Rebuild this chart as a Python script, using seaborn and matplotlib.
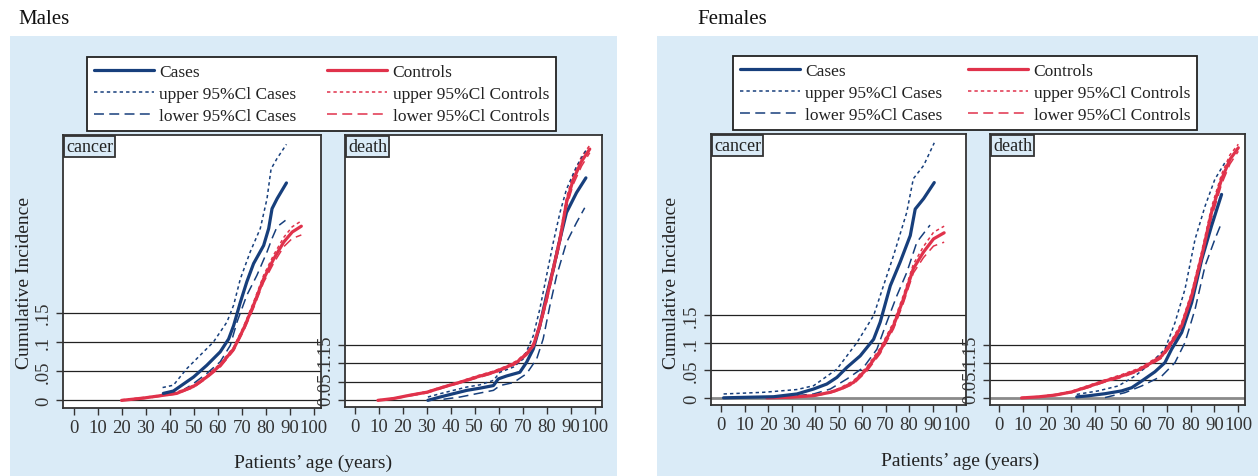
import matplotlib
matplotlib.use('Agg')
import matplotlib.pyplot as plt
from matplotlib.lines import Line2D
from matplotlib.patches import Rectangle
import seaborn as sns

# ---- Males, cancer ----
m_can_cas_age = [37.3, 41.5, 44.3, 49.9, 55.4, 61.0, 64.5, 66.6, 69.4, 72.1, 74.9, 79.1, 81.2, 82.6, 84.7, 88.6]
m_can_cas = [0.012, 0.016, 0.024, 0.040, 0.060, 0.083, 0.105, 0.128, 0.168, 0.203, 0.234, 0.265, 0.294, 0.328, 0.345, 0.372]
m_can_cas_up_age = [37.0, 41.5, 47.0, 52.6, 58.2, 63.8, 66.6, 69.4, 73.5, 77.7, 80.5, 82.2, 84.7, 88.6]
m_can_cas_up = [0.022, 0.026, 0.054, 0.077, 0.100, 0.134, 0.163, 0.208, 0.254, 0.294, 0.345, 0.396, 0.414, 0.438]
m_can_cas_lo_age = [38.7, 44.3, 49.9, 55.4, 61.0, 65.2, 68.0, 72.1, 76.3, 80.5, 82.6, 84.7, 88.2]
m_can_cas_lo = [0.009, 0.014, 0.029, 0.046, 0.066, 0.094, 0.134, 0.180, 0.214, 0.254, 0.277, 0.297, 0.308]
m_can_con_age = [19.9, 29.0, 36.0, 42.9, 49.9, 55.4, 61.0, 66.6, 70.8, 74.9, 79.1, 83.3, 87.5, 91.0, 94.8]
m_can_con = [0.000, 0.004, 0.008, 0.012, 0.024, 0.040, 0.060, 0.088, 0.123, 0.163, 0.208, 0.242, 0.271, 0.288, 0.298]
m_can_con_up = [0.001, 0.005, 0.009, 0.014, 0.026, 0.042, 0.063, 0.091, 0.127, 0.168, 0.214, 0.249, 0.279, 0.297, 0.307]
m_can_con_lo = [0.000, 0.003, 0.007, 0.011, 0.022, 0.038, 0.057, 0.085, 0.119, 0.158, 0.202, 0.235, 0.263, 0.277, 0.283]

# ---- Males, death ----
m_dth_cas_age = [30.5, 35.6, 41.1, 46.7, 52.2, 57.8, 59.8, 63.3, 68.8, 71.6, 74.4, 77.1, 79.9, 82.7, 85.5, 88.2, 92.4, 96.3]
m_dth_cas = [0.000, 0.009, 0.018, 0.027, 0.033, 0.040, 0.058, 0.066, 0.076, 0.103, 0.139, 0.202, 0.283, 0.355, 0.436, 0.508, 0.562, 0.602]
m_dth_cas_up_age = [30.5, 35.6, 41.1, 46.7, 52.2, 57.8, 60.5, 66.1, 70.2, 74.4, 77.1, 79.9, 82.7, 85.5, 88.2, 92.4, 96.5]
m_dth_cas_up = [0.009, 0.018, 0.027, 0.036, 0.042, 0.054, 0.076, 0.090, 0.112, 0.175, 0.247, 0.337, 0.427, 0.508, 0.571, 0.633, 0.678]
m_dth_cas_lo_age = [37.0, 43.9, 50.8, 57.8, 60.5, 66.1, 71.6, 75.8, 78.5, 81.3, 84.1, 88.2, 92.4, 95.8]
m_dth_cas_lo = [0.003, 0.009, 0.018, 0.027, 0.040, 0.048, 0.072, 0.112, 0.166, 0.256, 0.337, 0.427, 0.481, 0.521]
m_dth_con_age = [9.7, 16.2, 23.1, 30.1, 37.0, 43.9, 50.8, 57.8, 63.3, 67.5, 71.6, 74.4, 77.1, 79.9, 82.7, 85.5, 88.2, 91.0, 94.5, 97.9]
m_dth_con = [0.000, 0.005, 0.014, 0.022, 0.036, 0.049, 0.063, 0.076, 0.090, 0.103, 0.126, 0.148, 0.202, 0.274, 0.355, 0.436, 0.535, 0.597, 0.647, 0.680]
m_dth_con_up = [0.001, 0.006, 0.015, 0.024, 0.038, 0.051, 0.066, 0.079, 0.093, 0.107, 0.130, 0.154, 0.210, 0.284, 0.366, 0.448, 0.548, 0.610, 0.660, 0.690]
m_dth_con_lo = [0.000, 0.004, 0.012, 0.020, 0.034, 0.047, 0.060, 0.073, 0.087, 0.099, 0.122, 0.142, 0.194, 0.264, 0.344, 0.424, 0.522, 0.584, 0.634, 0.670]

# ---- Females, cancer ----
f_can_cas_age = [1.1, 11.0, 22.4, 32.3, 39.4, 45.0, 49.3, 53.5, 59.2, 64.9, 67.7, 72.0, 76.2, 80.5, 82.6, 86.2, 90.7]
f_can_cas = [0.000, 0.001, 0.002, 0.007, 0.016, 0.025, 0.037, 0.055, 0.076, 0.106, 0.137, 0.203, 0.246, 0.294, 0.342, 0.361, 0.390]
f_can_cas_up_age = [1.1, 18.1, 32.3, 39.4, 49.3, 57.8, 64.9, 69.1, 73.4, 79.0, 81.8, 86.2, 90.7]
f_can_cas_up = [0.007, 0.010, 0.015, 0.022, 0.052, 0.100, 0.149, 0.203, 0.258, 0.336, 0.397, 0.421, 0.462]
f_can_cas_lo_age = [32.3, 39.4, 46.5, 53.5, 60.6, 66.3, 70.5, 74.8, 79.0, 83.3, 88.9]
f_can_cas_lo = [0.004, 0.007, 0.016, 0.034, 0.055, 0.088, 0.137, 0.185, 0.227, 0.282, 0.313]
f_can_con_age = [19.5, 29.5, 39.4, 46.5, 50.7, 56.4, 62.0, 67.7, 73.4, 77.6, 81.8, 86.1, 90.4, 94.9]
f_can_con = [0.000, 0.001, 0.004, 0.010, 0.016, 0.028, 0.052, 0.085, 0.131, 0.179, 0.234, 0.264, 0.288, 0.299]
f_can_con_up = [0.000, 0.002, 0.005, 0.011, 0.018, 0.031, 0.056, 0.090, 0.137, 0.186, 0.242, 0.274, 0.300, 0.311]
f_can_con_lo = [0.000, 0.001, 0.003, 0.009, 0.014, 0.025, 0.048, 0.080, 0.125, 0.172, 0.226, 0.254, 0.275, 0.282]

# ---- Females, death ----
f_dth_cas_age = [32.4, 37.2, 44.2, 51.2, 55.4, 59.6, 65.1, 69.3, 72.1, 76.3, 80.5, 84.7, 88.8, 93.0]
f_dth_cas = [0.003, 0.006, 0.012, 0.020, 0.029, 0.048, 0.074, 0.100, 0.138, 0.185, 0.270, 0.392, 0.487, 0.576]
f_dth_cas_up_age = [32.4, 41.4, 49.8, 56.8, 63.7, 69.3, 73.5, 77.7, 81.9, 86.1, 90.2, 94.4]
f_dth_cas_up = [0.010, 0.020, 0.034, 0.062, 0.100, 0.138, 0.213, 0.308, 0.449, 0.543, 0.619, 0.666]
f_dth_cas_lo_age = [44.2, 52.6, 59.6, 68.0, 73.5, 77.7, 81.9, 86.1, 90.2, 93.0]
f_dth_cas_lo = [0.001, 0.015, 0.034, 0.062, 0.100, 0.157, 0.251, 0.374, 0.449, 0.496]
f_dth_con_age = [9.3, 16.3, 23.3, 30.3, 37.2, 44.2, 51.2, 58.2, 63.7, 68.0, 72.1, 76.3, 80.5, 84.7, 88.8, 93.0, 96.5, 100.0]
f_dth_con = [0.000, 0.003, 0.008, 0.017, 0.032, 0.048, 0.062, 0.079, 0.100, 0.119, 0.157, 0.204, 0.289, 0.402, 0.525, 0.619, 0.675, 0.708]
f_dth_con_up = [0.001, 0.004, 0.010, 0.019, 0.035, 0.051, 0.066, 0.083, 0.105, 0.125, 0.164, 0.213, 0.300, 0.415, 0.540, 0.633, 0.688, 0.718]
f_dth_con_lo = [0.000, 0.002, 0.007, 0.015, 0.029, 0.045, 0.058, 0.075, 0.095, 0.113, 0.150, 0.195, 0.278, 0.389, 0.510, 0.605, 0.662, 0.698]

x_ticks = [0, 10, 20, 30, 40, 50, 60, 70, 80, 90, 100]
y_ticks = [0, 0.05, 0.1, 0.15]
y_tick_labels = ['0', '.05', '.1', '.15']
legend_labels = ['Cases', 'upper 95%Cl Cases', 'lower 95%Cl Cases',
                 'Controls', 'upper 95%Cl Controls', 'lower 95%Cl Controls']

BLUE = '#173f7c'
RED = '#e0324b'
BG = '#daebf7'
W, H = 1258, 477

sns.set_style('white')
plt.rcParams['font.family'] = ['Liberation Serif', 'DejaVu Serif']

fig = plt.figure(figsize=(W / 100, H / 100), dpi=100)


def box(x0, y0, x1, y1):
    return [x0 / W, 1 - y1 / H, (x1 - x0) / W, (y1 - y0) / H]


solid = dict(lw=2.3)
upper = dict(lw=1.1, linestyle=(0, (2.2, 2.0)))
lower = dict(lw=1.1, linestyle=(0, (6.5, 3.5)))

# background panels (behind everything)
bg_ax = fig.add_axes([0, 0, 1, 1], zorder=-10)
bg_ax.set_axis_off()
bg_ax.set_xlim(0, W)
bg_ax.set_ylim(H, 0)
bg_ax.add_patch(Rectangle((10, 37), 607, 440, fc=BG, ec='none'))
bg_ax.add_patch(Rectangle((657, 37), 601, 440, fc=BG, ec='none'))


def draw_panel(rect, xlim, ylim, tag, series, zero_grey=False):
    ax = fig.add_axes(box(*rect))
    ax.set_facecolor('white')
    for y in y_ticks:
        if zero_grey and y == 0:
            ax.axhline(y, color='#8a8a8a', lw=2.0, zorder=1)
        else:
            ax.axhline(y, color='#222222', lw=0.9, zorder=1)
    for (ages, vals, col, st) in series:
        sns.lineplot(x=ages, y=vals, ax=ax, color=col, errorbar=None, zorder=3, **st)
    ax.set_xlim(*xlim)
    ax.set_ylim(*ylim)
    ax.set_xticks(x_ticks)
    ax.set_xticklabels([str(t) for t in x_ticks], fontsize=13.5, color='#333333')
    ax.set_yticks(y_ticks)
    ax.set_yticklabels(y_tick_labels, fontsize=13.5, rotation=90, va='center', color='#333333')
    ax.tick_params(axis='both', direction='out', length=5, width=1, color='#333333', pad=3,
                   bottom=True, left=True)
    for s in ax.spines.values():
        s.set_color('#333333')
        s.set_linewidth(1.3)
    ax.set_xlabel('')
    ax.set_ylabel('')
    ax.annotate(tag, xy=(0, 1), xycoords='axes fraction', xytext=(2.3, -2.0),
                textcoords='offset points', ha='left', va='top', fontsize=13, color='#222222',
                bbox=dict(boxstyle='square,pad=0.12', fc=BG, ec='#333333', lw=1.3), zorder=5)
    return ax


# Males
draw_panel((63, 136, 321, 409), (-4.5, 103), (-0.013, 0.454), 'cancer', [
    (m_can_con_age, m_can_con_up, RED, upper), (m_can_con_age, m_can_con_lo, RED, lower),
    (m_can_cas_up_age, m_can_cas_up, BLUE, upper), (m_can_cas_lo_age, m_can_cas_lo, BLUE, lower),
    (m_can_con_age, m_can_con, RED, solid), (m_can_cas_age, m_can_cas, BLUE, solid)])
draw_panel((345, 136, 602, 408), (-4, 103), (-0.018, 0.718), 'death', [
    (m_dth_con_age, m_dth_con_up, RED, upper), (m_dth_con_age, m_dth_con_lo, RED, lower),
    (m_dth_cas_up_age, m_dth_cas_up, BLUE, upper), (m_dth_cas_lo_age, m_dth_cas_lo, BLUE, lower),
    (m_dth_cas_age, m_dth_cas, BLUE, solid), (m_dth_con_age, m_dth_con, RED, solid)])

# Females
draw_panel((711, 135, 966, 406), (-4.25, 104.2), (-0.013, 0.478), 'cancer', [
    (f_can_con_age, f_can_con_up, RED, upper), (f_can_con_age, f_can_con_lo, RED, lower),
    (f_can_cas_up_age, f_can_cas_up, BLUE, upper), (f_can_cas_lo_age, f_can_cas_lo, BLUE, lower),
    (f_can_con_age, f_can_con, RED, solid), (f_can_cas_age, f_can_cas, BLUE, solid)], zero_grey=True)
draw_panel((990, 135, 1245, 406), (-3.9, 102.8), (-0.02, 0.747), 'death', [
    (f_dth_con_age, f_dth_con_up, RED, upper), (f_dth_con_age, f_dth_con_lo, RED, lower),
    (f_dth_cas_up_age, f_dth_cas_up, BLUE, upper), (f_dth_cas_lo_age, f_dth_cas_lo, BLUE, lower),
    (f_dth_cas_age, f_dth_cas, BLUE, solid), (f_dth_con_age, f_dth_con, RED, solid)], zero_grey=True)

# legends
handles = [Line2D([], [], color=BLUE, **solid), Line2D([], [], color=BLUE, **upper),
           Line2D([], [], color=BLUE, **lower), Line2D([], [], color=RED, **solid),
           Line2D([], [], color=RED, **upper), Line2D([], [], color=RED, **lower)]
for (x0, x1, yc) in [(87, 556, 95), (733, 1197, 94)]:
    leg = fig.legend(handles, legend_labels, ncol=2, loc='center',
                     bbox_to_anchor=(x0 / W, 1 - (yc + 36) / H, (x1 - x0) / W, 72 / H),
                     mode='expand', fontsize=12.5, frameon=True, fancybox=False,
                     edgecolor='#222222', framealpha=1, borderaxespad=0,
                     handlelength=3.45, handletextpad=0.3, labelspacing=0.36, borderpad=0.4)
    leg.get_frame().set_linewidth(1.3)
    for t in leg.get_texts():
        t.set_color('#222222')

# titles and axis labels
fig.text(18 / W, 1 - 19 / H, 'Males', fontsize=15, ha='left', va='center', color='#111111')
fig.text(697 / W, 1 - 19 / H, 'Females', fontsize=15, ha='left', va='center', color='#111111')
fig.text(25 / W, 1 - 283 / H, 'Cumulative Incidence', fontsize=14, rotation=90,
         ha='center', va='center', color='#222222')
fig.text(671 / W, 1 - 283 / H, 'Cumulative Incidence', fontsize=14, rotation=90,
         ha='center', va='center', color='#222222')
fig.text(313 / W, 1 - 463 / H, 'Patients’ age (years)', fontsize=14, ha='center', va='center',
         color='#222222')
fig.text(960 / W, 1 - 461 / H, 'Patients’ age (years)', fontsize=14, ha='center', va='center',
         color='#222222')

fig.savefig('out.png', dpi=100, facecolor='white')
